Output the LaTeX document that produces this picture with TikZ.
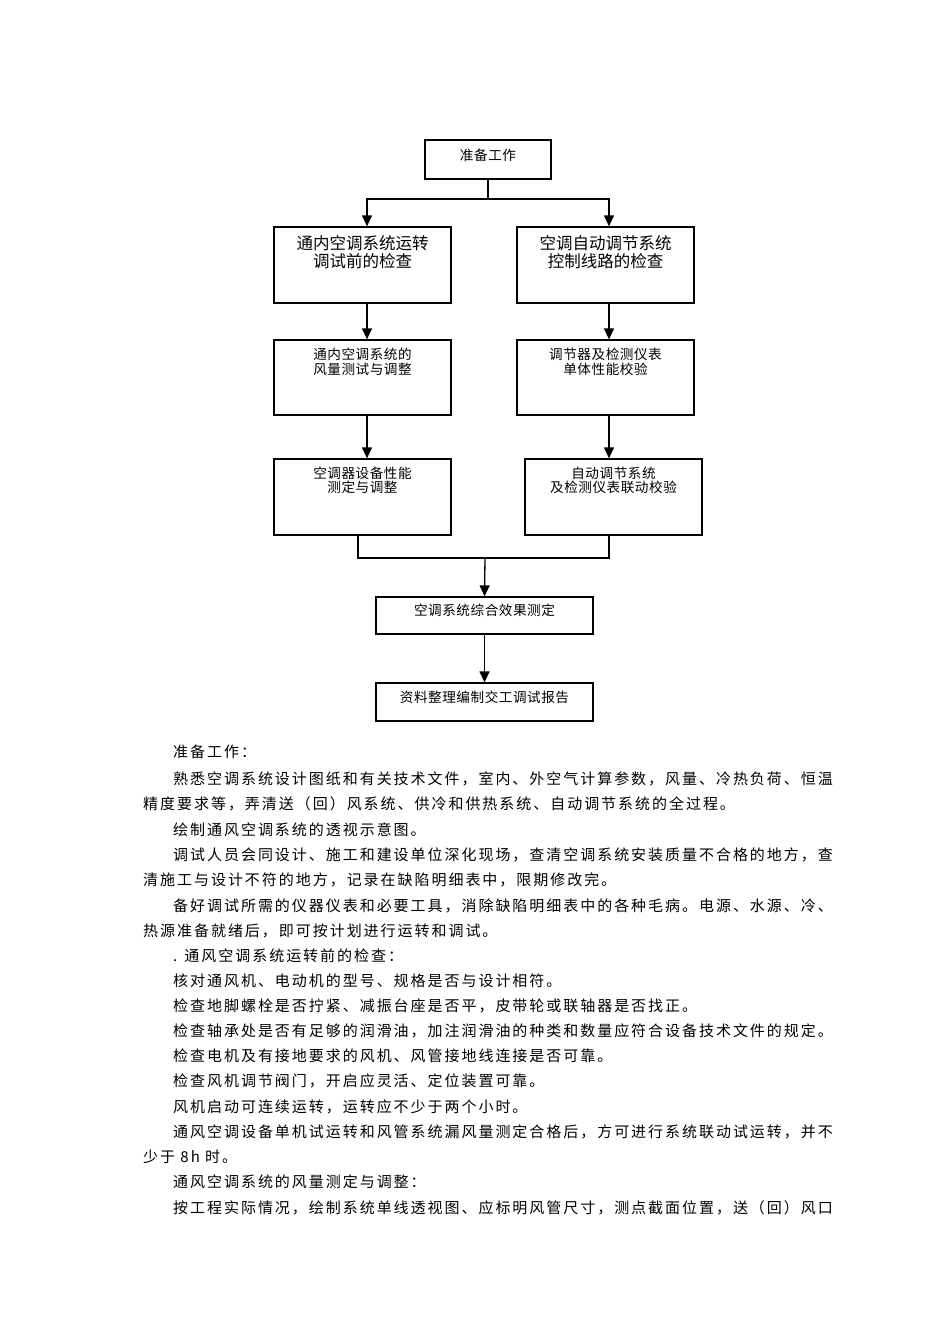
\documentclass[tikz,border=0pt]{standalone}
\usepackage{fontspec}
\usetikzlibrary{arrows.meta}
\newfontfamily\cjk{Noto Sans CJK SC}
\newfontfamily\cjkbody[LetterSpace=13.1]{Noto Sans CJK SC}
\newfontfamily\cjkbox[LetterSpace=4]{Noto Sans CJK SC}
\begin{document}
\begin{tikzpicture}[x=1pt,y=-1pt,
  box/.style={draw, line width=1.3pt, rectangle, inner sep=0pt},
  arr/.style={line width=1.3pt, -{Triangle[width=10pt,length=11pt]}},
  ln/.style={line width=1.3pt},
  bigtxt/.style={font=\cjk\fontsize{16.5}{18}\selectfont, align=center, inner sep=0pt},
  smtxt/.style={font=\cjkbox\fontsize{13.6}{14.6}\selectfont, align=center, inner sep=0pt},
  body/.style={font=\cjkbody\fontsize{15}{18}\selectfont, anchor=west, inner sep=0pt}]
\useasboundingbox (0,0) rectangle (950,1344);
% boxes
\node[box, minimum width=126pt, minimum height=39pt] (prep) at (488,159.5) {};
\node[box, minimum width=177pt, minimum height=76pt] (L1) at (362.5,265) {};
\node[box, minimum width=177pt, minimum height=76pt] (R1) at (605.5,265) {};
\node[box, minimum width=177pt, minimum height=75pt] (L2) at (362.5,377.5) {};
\node[box, minimum width=177pt, minimum height=75pt] (R2) at (605.5,377.5) {};
\node[box, minimum width=177pt, minimum height=76pt] (L3) at (362.5,497) {};
\node[box, minimum width=177pt, minimum height=76pt] (R3) at (613.5,497) {};
\node[box, minimum width=217pt, minimum height=37pt] (S) at (484.5,615.5) {};
\node[box, minimum width=217pt, minimum height=38pt] (Z) at (484.5,702) {};
% box texts
\node[smtxt] (tprep) at (488,155) {准备工作};
\node[bigtxt] (tL1) at (362.5,252) {通内空调系统运转\\调试前的检查};
\node[bigtxt] (tR1) at (605.5,252) {空调自动调节系统\\控制线路的检查};
\node[smtxt] (tL2) at (362.5,362) {通内空调系统的\\风量测试与调整};
\node[smtxt] (tR2) at (605.5,362) {调节器及检测仪表\\单体性能校验};
\node[smtxt] (tL3) at (362.5,480.5) {空调器设备性能\\测定与调整};
\node[smtxt] (tR3) at (613.5,480.5) {自动调节系统\\及检测仪表联动校验};
\node[smtxt] (tS) at (484.5,610) {空调系统综合效果测定};
\node[smtxt] (tZ) at (484.5,697) {资料整理编制交工调试报告};
% connectors
\coordinate (xl) at (367,0);
\coordinate (xr) at (609,0);
\coordinate (xl3) at (358,0);
\coordinate (j1) at (488,199);
\coordinate (j2) at (485,558);
\draw[ln] (prep.south) -- (j1);
\draw[arr] (j1) -| (xl |- L1.north);
\draw[arr] (j1) -| (xr |- R1.north);
\draw[arr] (xl |- L1.south) -- (xl |- L2.north);
\draw[arr] (xr |- R1.south) -- (xr |- R2.north);
\draw[arr] (xl |- L2.south) -- (xl |- L3.north);
\draw[arr] (xr |- R2.south) -- (xr |- R3.north);
\draw[ln] (xl3 |- L3.south) |- (xr |- j2) -- (xr |- R3.south);
\draw[arr] (j2) -- (S.north);
\draw[arr] (S.south) -- (Z.north);
% body text
\node[body] (p0) at (173,752) {准备工作：};
\node[body] (p1) at (173,778.5) {熟悉空调系统设计图纸和有关技术文件，室内、外空气计算参数，风量、冷热负荷、恒温};
\node[body] (p2) at (143,804) {精度要求等，弄清送（回）风系统、供冷和供热系统、自动调节系统的全过程。};
\node[body] (p3) at (173,829.5) {绘制通风空调系统的透视示意图。};
\node[body] (p4) at (173,855) {调试人员会同设计、施工和建设单位深化现场，查清空调系统安装质量不合格的地方，查};
\node[body] (p5) at (143,880) {清施工与设计不符的地方，记录在缺陷明细表中，限期修改完。};
\node[body] (p6) at (173,905.5) {备好调试所需的仪器仪表和必要工具，消除缺陷明细表中的各种毛病。电源、水源、冷、};
\node[body] (p7) at (143,930.5) {热源准备就绪后，即可按计划进行运转和调试。};
\node[body] (p8) at (173,955.5) {. 通风空调系统运转前的检查：};
\node[body] (p9) at (173,981) {核对通风机、电动机的型号、规格是否与设计相符。};
\node[body] (p10) at (173,1006) {检查地脚螺栓是否拧紧、减振台座是否平，皮带轮或联轴器是否找正。};
\node[body] (p11) at (173,1031) {检查轴承处是否有足够的润滑油，加注润滑油的种类和数量应符合设备技术文件的规定。};
\node[body] (p12) at (173,1056) {检查电机及有接地要求的风机、风管接地线连接是否可靠。};
\node[body] (p13) at (173,1081) {检查风机调节阀门，开启应灵活、定位装置可靠。};
\node[body] (p14) at (173,1106.5) {风机启动可连续运转，运转应不少于两个小时。};
\node[body] (p15) at (173,1132) {通风空调设备单机试运转和风管系统漏风量测定合格后，方可进行系统联动试运转，并不};
\node[body] (p16) at (143,1157) {少于 8h 时。};
\node[body] (p17) at (173,1182) {通风空调系统的风量测定与调整：};
\node[body] (p18) at (173,1208) {按工程实际情况，绘制系统单线透视图、应标明风管尺寸，测点截面位置，送（回）风口};
\end{tikzpicture}
\end{document}
